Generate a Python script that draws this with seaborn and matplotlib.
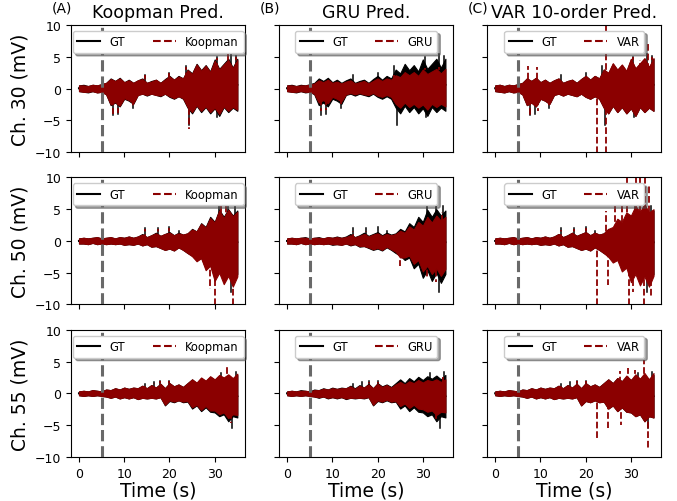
import numpy as np
import pandas as pd
import matplotlib
matplotlib.use("Agg")
import matplotlib.pyplot as plt
import seaborn as sns

# ---------------- data (mV) ----------------
# per-second upper / lower envelope of each trace, plus isolated spikes
seconds = list(range(36))

ch30_gt_hi = [0.5,0.6,0.4,0.6,0.5,0.7,0.9,1.6,1.2,1.7,1.0,1.4,0.9,1.3,1.6,0.9,1.2,1.4,0.9,1.5,
              2.0,1.4,2.0,1.6,3.0,2.4,3.9,2.9,3.7,2.7,4.6,3.1,3.9,4.7,3.3,4.7]
ch30_gt_lo = [-0.4,-0.5,-0.6,-0.4,-0.6,-0.5,-0.9,-2.6,-2.2,-2.8,-1.6,-1.9,-2.4,-1.0,-0.8,-1.1,-0.8,-1.0,-1.2,-0.8,
              -1.3,-1.6,-1.2,-1.6,-3.0,-3.9,-2.7,-3.7,-2.9,-3.9,-3.1,-4.3,-2.9,-3.7,-3.0,-3.5]
ch30_gt_spike_t = [7.6, 8.7, 12.0, 14.5, 20.0, 23.7, 24.3, 30.4, 30.6, 33.5, 34.7]
ch30_gt_spike_v = [-4.2, -4.0, -3.0, 2.2, 2.5, 3.5, -5.8, 5.0, -4.5, 5.5, 5.2]

ch30_koop_hi = [0.5,0.5,0.4,0.6,0.5,0.7,0.9,1.5,1.2,1.6,1.0,1.3,0.9,1.3,1.5,0.9,1.1,1.4,0.9,1.4,
                1.9,1.4,1.9,1.6,2.9,2.3,3.8,2.8,3.6,2.6,4.4,3.0,3.8,4.5,3.2,4.5]
ch30_koop_lo = [-0.4,-0.5,-0.5,-0.4,-0.6,-0.5,-0.9,-2.5,-2.1,-2.7,-1.5,-1.8,-2.3,-1.0,-0.8,-1.0,-0.8,-1.0,-1.1,-0.8,
                -1.2,-1.5,-1.2,-1.5,-2.9,-3.7,-2.6,-3.5,-2.8,-3.7,-3.0,-4.0,-2.8,-3.5,-2.9,-3.3]
ch30_koop_spike_t = [7.6, 8.7, 12.0, 14.5, 20.0, 23.7, 24.3, 30.4, 32.9, 34.7]
ch30_koop_spike_v = [-4.0, -3.8, -2.8, 2.1, 2.4, 3.4, -6.4, 4.8, 5.8, 5.0]

ch30_gru_hi = [0.5,0.5,0.4,0.5,0.5,0.6,0.8,1.3,1.0,1.4,0.9,1.1,0.8,1.1,1.3,0.8,1.0,1.2,0.8,1.2,
               1.6,1.2,1.6,1.4,2.1,1.8,2.6,2.1,2.6,2.0,3.0,2.3,2.7,3.1,2.4,3.1]
ch30_gru_lo = [-0.4,-0.5,-0.5,-0.4,-0.5,-0.5,-0.8,-2.2,-1.8,-2.3,-1.3,-1.6,-2.0,-0.9,-0.7,-0.9,-0.7,-0.9,-1.0,-0.7,
               -1.1,-1.3,-1.0,-1.3,-2.4,-3.0,-2.2,-2.9,-2.4,-3.0,-2.5,-3.3,-2.4,-2.9,-2.4,-2.8]
ch30_gru_spike_t = [7.6, 8.7, 12.0, 23.7, 30.5, 33.5]
ch30_gru_spike_v = [-3.5, -3.3, -2.4, 2.2, 3.2, 3.4]

ch30_var_hi = [0.5,0.6,0.4,0.6,0.5,0.7,0.9,1.6,1.2,1.7,1.0,1.4,0.9,1.3,1.6,0.9,1.2,1.4,0.9,1.5,
               2.0,1.4,2.0,1.6,3.0,2.5,4.0,3.0,3.8,2.8,4.7,3.2,4.0,4.8,3.4,4.8]
ch30_var_lo = [-0.4,-0.5,-0.6,-0.4,-0.6,-0.5,-0.9,-2.6,-2.2,-2.8,-1.6,-1.9,-2.4,-1.0,-0.8,-1.1,-0.8,-1.0,-1.2,-0.8,
               -1.3,-1.6,-1.2,-1.6,-3.0,-3.9,-2.7,-3.7,-2.9,-3.9,-3.1,-4.3,-2.9,-3.7,-3.0,-3.5]
ch30_var_spike_t = [7.3, 7.6, 9.3, 9.4, 12.0, 22.6, 24.6, 24.6, 30.4, 32.0, 33.7, 34.7]
ch30_var_spike_v = [3.5, -4.2, 3.4, -3.5, -3.0, -11.0, 11.0, -11.0, 5.0, 4.5, 7.4, 5.0]

ch50_gt_hi = [0.4,0.5,0.4,0.5,0.6,0.4,0.5,0.6,0.4,0.6,0.5,0.7,0.5,0.7,1.1,0.6,0.9,1.3,0.8,1.1,
              1.4,0.9,1.3,1.0,1.2,1.9,1.5,2.8,2.2,3.8,3.0,4.9,3.8,5.0,4.0,4.8]
ch50_gt_lo = [-0.4,-0.4,-0.5,-0.3,-0.5,-0.4,-0.5,-0.4,-0.5,-0.4,-0.6,-0.5,-0.6,-0.4,-0.7,-0.5,-0.9,-0.8,-1.1,-1.4,
              -1.2,-1.5,-1.0,-1.4,-1.9,-2.3,-3.0,-2.6,-4.3,-3.6,-5.8,-4.6,-6.3,-5.0,-6.6,-5.2]
ch50_gt_spike_t = [14.5, 17.5, 20.0, 22.0, 31.0, 33.0, 33.5, 34.5]
ch50_gt_spike_v = [2.0, 2.0, 2.2, 1.6, 5.5, 6.0, -8.0, 5.5]

ch50_koop_hi = [0.4,0.5,0.4,0.5,0.6,0.4,0.5,0.6,0.4,0.6,0.5,0.7,0.5,0.7,1.0,0.6,0.9,1.2,0.8,1.1,
                1.3,0.9,1.2,1.0,1.2,1.8,1.5,2.7,2.1,3.6,2.9,4.8,3.6,4.9,3.9,4.6]
ch50_koop_lo = [-0.4,-0.4,-0.5,-0.3,-0.5,-0.4,-0.5,-0.4,-0.5,-0.4,-0.6,-0.5,-0.6,-0.4,-0.7,-0.5,-0.9,-0.8,-1.1,-1.4,
                -1.2,-1.5,-1.0,-1.4,-1.9,-2.4,-3.2,-2.7,-4.6,-3.9,-6.3,-5.0,-6.8,-5.5,-7.2,-5.6]
ch50_koop_spike_t = [14.5, 17.5, 20.0, 29.0, 30.1, 31.5, 32.5, 34.1]
ch50_koop_spike_v = [1.9, 1.9, 2.1, -7.5, -10.5, 5.8, 5.8, -10.5]

ch50_gru_hi = [0.4,0.5,0.4,0.5,0.5,0.4,0.5,0.5,0.4,0.6,0.5,0.6,0.5,0.6,0.9,0.6,0.8,1.1,0.7,1.0,
               1.2,0.8,1.1,0.9,1.1,1.6,1.3,2.3,1.8,3.0,2.4,3.8,2.9,4.0,3.2,3.8]
ch50_gru_lo = [-0.4,-0.4,-0.5,-0.3,-0.5,-0.4,-0.5,-0.4,-0.5,-0.4,-0.5,-0.5,-0.6,-0.4,-0.6,-0.5,-0.8,-0.8,-1.0,-1.3,
               -1.1,-1.4,-0.9,-1.3,-1.7,-2.6,-2.6,-2.3,-3.6,-3.0,-4.8,-3.9,-5.2,-4.3,-5.5,-4.4]
ch50_gru_spike_t = [14.5, 17.5, 25.0, 31.0, 33.0, 34.2]
ch50_gru_spike_v = [1.6, 1.6, -4.0, -6.0, -6.5, 4.5]

ch50_var_hi = [0.4,0.5,0.4,0.5,0.6,0.4,0.5,0.6,0.4,0.6,0.5,0.7,0.5,0.7,1.1,0.6,0.9,1.3,0.8,1.1,
               1.4,0.9,1.3,1.0,1.2,1.9,2.2,3.5,3.0,4.5,4.0,5.5,4.6,5.8,4.5,5.0]
ch50_var_lo = [-0.4,-0.4,-0.5,-0.3,-0.5,-0.4,-0.5,-0.4,-0.5,-0.4,-0.6,-0.5,-0.6,-0.4,-0.7,-0.5,-0.9,-0.8,-1.1,-1.4,
               -1.2,-1.5,-1.0,-1.4,-1.9,-2.5,-3.4,-3.0,-4.8,-4.2,-6.5,-5.2,-7.0,-5.6,-7.2,-5.5]
ch50_var_spike_t = [14.5, 17.5, 20.0, 22.6, 24.5, 24.9, 26.5, 28.0, 29.2, 29.6, 30.5, 31.2, 32.0, 32.8, 33.2, 34.0, 34.5]
ch50_var_spike_v = [1.8, 1.9, 2.0, -10.5, 4.7, -7.0, 6.0, 8.0, 11.0, -10.5, -8.0, 11.0, 11.0, -10.5, 11.0, 9.0, -9.0]

ch55_gt_hi = [0.3,0.4,0.3,0.5,0.4,0.3,0.6,0.5,0.8,0.6,0.9,0.7,0.9,0.8,1.2,0.8,1.3,0.9,1.5,0.8,
              1.6,1.1,1.4,1.0,1.6,2.2,1.6,2.4,1.9,2.6,2.1,2.7,2.3,2.8,2.2,2.9]
ch55_gt_lo = [-0.3,-0.4,-0.3,-0.4,-0.3,-0.4,-0.5,-0.7,-0.5,-0.8,-0.6,-0.8,-0.6,-0.9,-0.7,-0.8,-0.7,-0.8,-0.6,-1.9,
              -1.2,-1.4,-1.1,-1.4,-1.3,-2.4,-1.9,-2.8,-2.2,-2.9,-3.0,-3.6,-3.3,-4.4,-3.6,-3.8]
ch55_gt_spike_t = [14.5, 16.5, 18.0, 20.0, 31.5, 33.8, 34.7]
ch55_gt_spike_v = [1.5, 1.8, 2.0, 2.0, 3.2, -5.5, 3.3]

ch55_koop_hi = [0.3,0.4,0.3,0.5,0.4,0.3,0.6,0.5,0.8,0.6,0.9,0.7,0.9,0.8,1.2,0.8,1.3,0.9,1.5,0.8,
                1.6,1.1,1.4,1.0,1.6,2.2,1.7,2.5,2.0,2.7,2.2,2.9,2.5,3.0,2.4,3.1]
ch55_koop_lo = [-0.3,-0.4,-0.3,-0.4,-0.3,-0.4,-0.5,-0.7,-0.5,-0.8,-0.6,-0.8,-0.6,-0.9,-0.7,-0.8,-0.7,-0.8,-0.6,-1.8,
                -1.1,-1.3,-1.1,-1.3,-1.2,-2.2,-1.8,-2.6,-2.0,-2.7,-2.7,-3.3,-3.0,-3.9,-3.3,-3.4]
ch55_koop_spike_t = [14.5, 16.5, 18.0, 20.0, 32.7, 33.6]
ch55_koop_spike_v = [1.4, 1.7, 1.9, 1.9, 4.4, -4.6]

ch55_gru_hi = [0.3,0.4,0.3,0.4,0.4,0.3,0.5,0.5,0.7,0.6,0.8,0.7,0.8,0.8,1.1,0.7,1.2,0.9,1.4,0.8,
               1.5,1.0,1.3,0.9,1.4,1.8,1.4,1.9,1.6,2.1,1.7,2.1,1.9,2.2,1.8,2.2]
ch55_gru_lo = [-0.3,-0.4,-0.3,-0.4,-0.3,-0.4,-0.5,-0.6,-0.5,-0.7,-0.6,-0.7,-0.6,-0.8,-0.7,-0.7,-0.7,-0.7,-0.6,-1.8,
               -1.1,-1.3,-1.0,-1.3,-1.2,-2.0,-1.6,-2.3,-1.8,-2.4,-2.5,-2.9,-2.7,-3.4,-2.9,-3.0]
ch55_gru_spike_t = [18.0, 20.0, 33.0, 34.5]
ch55_gru_spike_v = [1.8, 1.8, -4.3, 2.5]

ch55_var_hi = [0.3,0.4,0.3,0.5,0.4,0.3,0.6,0.5,0.8,0.6,0.9,0.7,0.9,0.8,1.2,0.8,1.3,0.9,1.5,0.8,
               1.6,1.1,1.4,1.0,1.6,2.2,1.6,2.4,1.9,2.8,2.1,3.0,2.3,3.2,2.2,3.2]
ch55_var_lo = [-0.3,-0.4,-0.3,-0.4,-0.3,-0.4,-0.5,-0.7,-0.5,-0.8,-0.6,-0.8,-0.6,-0.9,-0.7,-0.8,-0.7,-0.8,-0.6,-1.9,
               -1.2,-1.4,-1.1,-1.4,-1.3,-2.4,-1.9,-2.8,-2.2,-2.9,-3.0,-3.6,-3.3,-4.4,-3.6,-3.8]
ch55_var_spike_t = [14.5, 18.0, 20.0, 22.6, 25.0, 27.5, 27.9, 29.3, 31.0, 32.9, 33.75]
ch55_var_spike_v = [1.5, 2.0, 2.0, -7.0, -5.5, 3.5, -5.0, 4.0, 3.6, 5.2, -9.0]

channels = ["Ch. 30 (mV)", "Ch. 50 (mV)", "Ch. 55 (mV)"]
models = ["Koopman", "GRU", "VAR"]
titles = ["Koopman Pred.", "GRU Pred.", "VAR 10-order Pred."]
panel_tags = ["(A)", "(B)", "(C)"]
x_ticks = [0, 10, 20, 30]
y_ticks = [-10, -5, 0, 5, 10]
stim_time = 5

gt = {
    0: (ch30_gt_hi, ch30_gt_lo, ch30_gt_spike_t, ch30_gt_spike_v),
    1: (ch50_gt_hi, ch50_gt_lo, ch50_gt_spike_t, ch50_gt_spike_v),
    2: (ch55_gt_hi, ch55_gt_lo, ch55_gt_spike_t, ch55_gt_spike_v),
}
pred = {
    (0, 0): (ch30_koop_hi, ch30_koop_lo, ch30_koop_spike_t, ch30_koop_spike_v),
    (0, 1): (ch30_gru_hi, ch30_gru_lo, ch30_gru_spike_t, ch30_gru_spike_v),
    (0, 2): (ch30_var_hi, ch30_var_lo, ch30_var_spike_t, ch30_var_spike_v),
    (1, 0): (ch50_koop_hi, ch50_koop_lo, ch50_koop_spike_t, ch50_koop_spike_v),
    (1, 1): (ch50_gru_hi, ch50_gru_lo, ch50_gru_spike_t, ch50_gru_spike_v),
    (1, 2): (ch50_var_hi, ch50_var_lo, ch50_var_spike_t, ch50_var_spike_v),
    (2, 0): (ch55_koop_hi, ch55_koop_lo, ch55_koop_spike_t, ch55_koop_spike_v),
    (2, 1): (ch55_gru_hi, ch55_gru_lo, ch55_gru_spike_t, ch55_gru_spike_v),
    (2, 2): (ch55_var_hi, ch55_var_lo, ch55_var_spike_t, ch55_var_spike_v),
}


def envelope_frame(hi, lo):
    return pd.DataFrame({"t": seconds + seconds, "v": list(hi) + list(lo)})


def spike_frame(st, sv):
    rows = []
    for k, (t, v) in enumerate(zip(st, sv)):
        rows.append({"t": t, "v": 0.0, "id": k})
        rows.append({"t": t, "v": v, "id": k})
    return pd.DataFrame(rows)


def draw(ax, series, color, ls, label, z, spike_lw):
    hi, lo, st, sv = series
    sns.lineplot(data=envelope_frame(hi, lo), x="t", y="v", ax=ax, color=color, lw=1.5,
                 linestyle=ls, estimator="mean", errorbar=("pi", 100), zorder=z + 0.1,
                 err_kws={"alpha": 1.0, "linewidth": 0.8, "edgecolor": color, "zorder": z},
                 label=label)
    sns.lineplot(data=spike_frame(st, sv), x="t", y="v", units="id", ax=ax, color=color,
                 lw=spike_lw, linestyle=ls, estimator=None, sort=False, zorder=z + 0.2)


fig, axes = plt.subplots(3, 3, figsize=(6.77, 5.02), dpi=100, sharex=True, sharey=True)
fig.subplots_adjust(left=0.105, right=0.977, top=0.948, bottom=0.088, wspace=0.195, hspace=0.2)

for r in range(3):
    for c in range(3):
        ax = axes[r, c]
        draw(ax, gt[r], "black", "-", "GT", 1.0, 1.1)
        draw(ax, pred[(r, c)], "darkred", "--", models[c], 2.0, 1.3)
        ax.axvline(stim_time, color="dimgray", ls="--", lw=2.2, zorder=3)
        ax.set_ylim(-10, 10)
        ax.set_xlim(-1.75, 36.75)
        ax.set_yticks(y_ticks)
        ax.set_xticks(x_ticks)
        ax.tick_params(labelsize=9)
        leg = ax.legend(loc="upper center", ncol=2, shadow=True, fontsize=8.3, columnspacing=2.4)
        leg.set_zorder(6)
        ax.set_xlabel("Time (s)" if r == 2 else "", fontsize=13.5, labelpad=0.5)
        ax.set_ylabel(channels[r] if c == 0 else "", fontsize=13.5)
        if r == 0:
            ax.set_title(titles[c], fontsize=12.5)
            ax.text(-0.11, 1.085, panel_tags[c], transform=ax.transAxes, fontsize=10,
                    ha="left", va="bottom")

fig.savefig("out.png", dpi=100)
